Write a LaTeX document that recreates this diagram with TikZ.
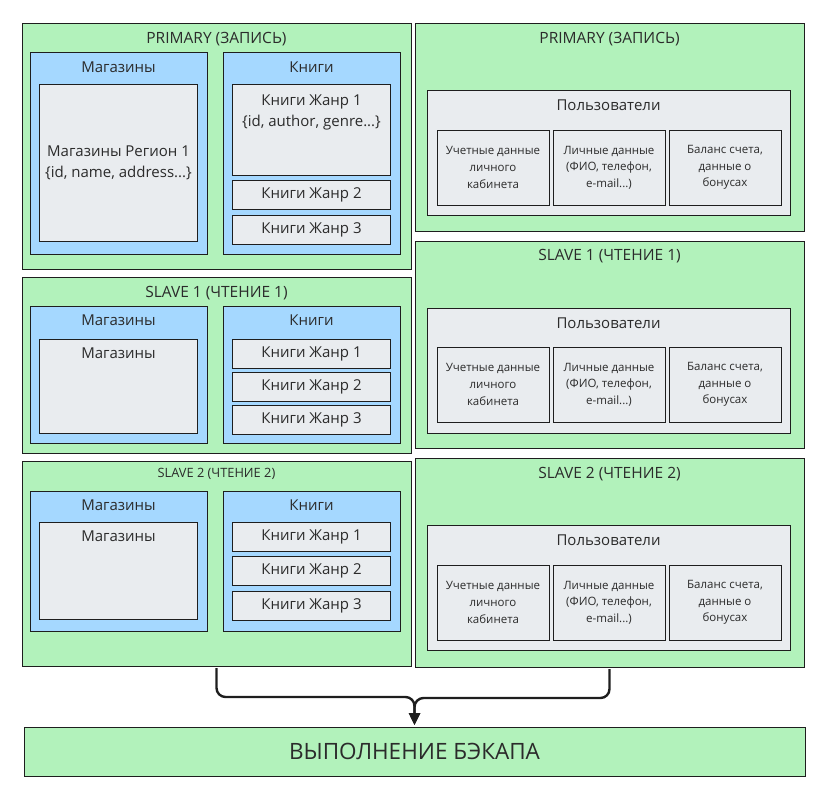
\documentclass[tikz,border=0pt]{standalone}
\usepackage{fontspec}
\setmainfont{Open Sans}
\usepackage{tikz}
\usetikzlibrary{arrows.meta,positioning}
\definecolor{mint}{HTML}{B2F2BB}
\definecolor{sky}{HTML}{A5D8FF}
\definecolor{paper}{HTML}{E9ECEF}
\definecolor{ink}{HTML}{1E1E1E}
\definecolor{txt}{HTML}{2B2B2B}
\tikzset{
    server/.style={
           rectangle,
           draw=ink, line width=0.8pt,
           fill=mint,
           inner sep=0pt, outer sep=0pt,
           text=txt
           },
    group/.style={
           server,
           fill=sky
           },
    shard/.style={
           server,
           fill=paper,
           align=center,
           font=\fontsize{15}{21}\selectfont
           },
    field/.style={
           server,
           fill=paper,
           align=center,
           font=\fontsize{11.5}{16.7}\selectfont
           },
    caption/.style={
           inner sep=0pt,
           text=txt,
           align=center,
           font=\fontsize{15}{21}\selectfont
           },
    heading/.style={
           caption,
           font=\fontsize{15.5}{19}\selectfont
           },
    dims/.style 2 args={
           minimum width=#1pt,
           minimum height=#2pt
           }
}

\begin{document}
\begin{tikzpicture}[x=1pt, y=-1pt, >={Triangle[length=12pt,width=11pt]}]
\tikzstyle{link} = [draw=ink, line width=2.4pt, rounded corners=9pt, shorten <=2pt, shorten >=2pt]
\useasboundingbox (0,0) rectangle (826,809);

   % left column: primary
   \node[server, dims={389}{246}, anchor=north west] (lp) at (22,23) {};
   \node[heading, below=9.5pt of lp.north] (lpT) {PRIMARY (ЗАПИСЬ)};
   \node[group, dims={177}{202}, below right=29pt and 8pt of lp.north west] (lpS) {};
   \node[caption, below=10pt of lpS.north] (lpST) {Магазины};
   \node[shard, dims={158}{157}, below right=32pt and 9.5pt of lpS.north west] (lpS1) {Магазины Регион 1\\\{id, name, address...\}};
   \node[group, dims={177}{202}, right=16pt of lpS] (lpB) {};
   \node[caption, below=10pt of lpB.north] (lpBT) {Книги};
   \node[shard, dims={158}{91}, below right=32pt and 9.5pt of lpB.north west] (lpB1) {};
   \node[caption, below=11pt of lpB1.north] (lpB1T) {Книги Жанр 1\\\{id, author, genre...\}};
   \node[shard, dims={158}{29}, below=5.5pt of lpB1] (lpB2) {Книги Жанр 2};
   \node[shard, dims={158}{29}, below=5.5pt of lpB2] (lpB3) {Книги Жанр 3};

   % left column: slave 1
   \node[server, dims={389}{176}, anchor=north west] (ls1) at (22,277) {};
   \node[heading, below=9.5pt of ls1.north] (ls1T) {SLAVE 1 (ЧТЕНИЕ 1)};
   \node[group, dims={177}{137}, below right=29pt and 8pt of ls1.north west] (ls1S) {};
   \node[caption, below=9pt of ls1S.north] (ls1ST) {Магазины};
   \node[shard, dims={158}{94}, below right=33pt and 9.5pt of ls1S.north west] (ls1S1) {};
   \node[caption, below=9pt of ls1S1.north] (ls1S1T) {Магазины};
   \node[group, dims={177}{137}, right=16pt of ls1S] (ls1B) {};
   \node[caption, below=9pt of ls1B.north] (ls1BT) {Книги};
   \node[shard, dims={158}{29}, below right=33pt and 9.5pt of ls1B.north west] (ls1B1) {Книги Жанр 1};
   \node[shard, dims={158}{29}, below=4pt of ls1B1] (ls1B2) {Книги Жанр 2};
   \node[shard, dims={158}{29}, below=4pt of ls1B2] (ls1B3) {Книги Жанр 3};

   % left column: slave 2
   \node[server, dims={389}{205}, anchor=north west] (ls2) at (22,461) {};
   \node[caption, font=\fontsize{12.8}{15}\selectfont, below=7pt of ls2.north] (ls2T) {SLAVE 2 (ЧТЕНИЕ 2)};
   \node[group, dims={177}{140}, below right=30pt and 8pt of ls2.north west] (ls2S) {};
   \node[caption, below=9pt of ls2S.north] (ls2ST) {Магазины};
   \node[shard, dims={158}{97}, below right=31pt and 9.5pt of ls2S.north west] (ls2S1) {};
   \node[caption, below=9pt of ls2S1.north] (ls2S1T) {Магазины};
   \node[group, dims={177}{140}, right=16pt of ls2S] (ls2B) {};
   \node[caption, below=9pt of ls2B.north] (ls2BT) {Книги};
   \node[shard, dims={158}{29}, below right=31pt and 9.5pt of ls2B.north west] (ls2B1) {Книги Жанр 1};
   \node[shard, dims={158}{29}, below=5.5pt of ls2B1] (ls2B2) {Книги Жанр 2};
   \node[shard, dims={158}{29}, below=5.5pt of ls2B2] (ls2B3) {Книги Жанр 3};

   % right column: primary
   \node[server, dims={389}{208}, anchor=north west] (rp) at (415,23) {};
   \node[heading, below=9.5pt of rp.north] (rpT) {PRIMARY (ЗАПИСЬ)};
   \node[shard, dims={363}{125}, below right=67pt and 12pt of rp.north west] (rpU) {};
   \node[caption, below=9.5pt of rpU.north] (rpUT) {Пользователи};
   \node[field, dims={112}{75}, below right=40pt and 10pt of rpU.north west] (rpU1) {Учетные данные\\личного\\кабинета};
   \node[field, dims={112}{75}, right=4pt of rpU1] (rpU2) {Личные данные\\(ФИО, телефон,\\e-mail...)};
   \node[field, dims={112}{75}, right=4pt of rpU2] (rpU3) {Баланс счета,\\данные о\\бонусах};

   % right column: slave 1
   \node[server, dims={389}{207}, anchor=north west] (rs1) at (415,241) {};
   \node[heading, below=8.5pt of rs1.north] (rs1T) {SLAVE 1 (ЧТЕНИЕ 1)};
   \node[shard, dims={363}{125}, below right=67pt and 12pt of rs1.north west] (rs1U) {};
   \node[caption, below=9.5pt of rs1U.north] (rs1UT) {Пользователи};
   \node[field, dims={112}{75}, below right=39pt and 10pt of rs1U.north west] (rs1U1) {Учетные данные\\личного\\кабинета};
   \node[field, dims={112}{75}, right=4pt of rs1U1] (rs1U2) {Личные данные\\(ФИО, телефон,\\e-mail...)};
   \node[field, dims={112}{75}, right=4pt of rs1U2] (rs1U3) {Баланс счета,\\данные о\\бонусах};

   % right column: slave 2
   \node[server, dims={389}{209}, anchor=north west] (rs2) at (415,458) {};
   \node[heading, below=9.5pt of rs2.north] (rs2T) {SLAVE 2 (ЧТЕНИЕ 2)};
   \node[shard, dims={363}{125}, below right=67pt and 12pt of rs2.north west] (rs2U) {};
   \node[caption, below=9.5pt of rs2U.north] (rs2UT) {Пользователи};
   \node[field, dims={112}{75}, below right=40pt and 10pt of rs2U.north west] (rs2U1) {Учетные данные\\личного\\кабинета};
   \node[field, dims={112}{75}, right=4pt of rs2U1] (rs2U2) {Личные данные\\(ФИО, телефон,\\e-mail...)};
   \node[field, dims={112}{75}, right=4pt of rs2U2] (rs2U3) {Баланс счета,\\данные о\\бонусах};

   % backup
   \node[server, dims={781}{49}, anchor=north west, font=\fontsize{22.5}{26}\selectfont] (backup) at (24,727) {ВЫПОЛНЕНИЕ БЭКАПА};

   \draw[link, ->] (ls2.south) -- ++(0,31) -| (backup.north);
   \draw[link, ->] (rs2.south) -- ++(0,31) -| (backup.north);
\end{tikzpicture}
\end{document}
